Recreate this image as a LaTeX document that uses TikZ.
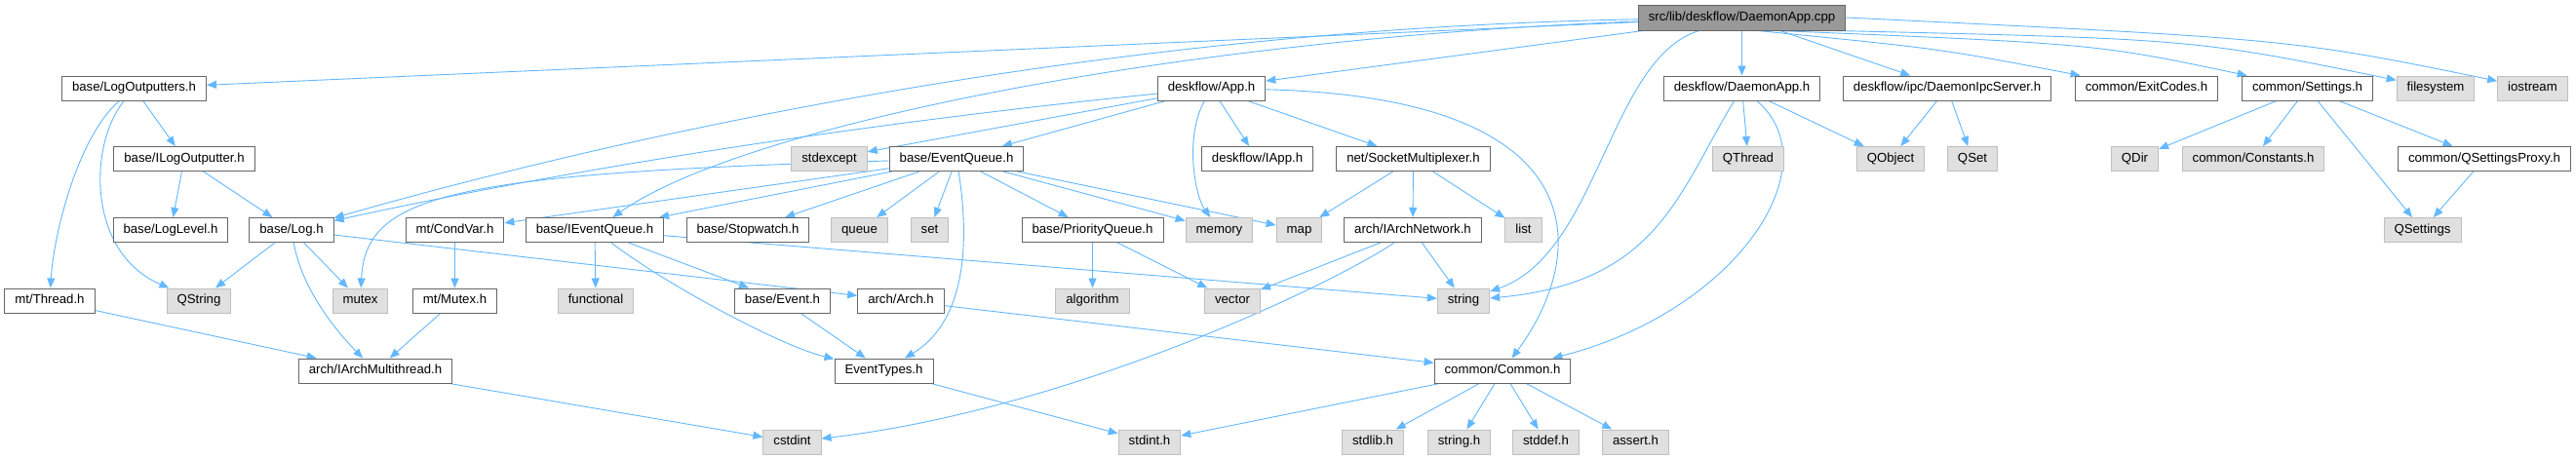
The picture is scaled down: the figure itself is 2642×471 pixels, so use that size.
\documentclass[tikz,border=0pt]{standalone}
\usepackage{fontspec}
\setmainfont{Liberation Sans}
\usetikzlibrary{shapes,arrows.meta,backgrounds}
\usepackage{xcolor}
\definecolor{inclblue}{HTML}{63B8FF}
\definecolor{hdrborder}{HTML}{666666}
\definecolor{sysborder}{HTML}{BFBFBF}
\definecolor{sysfill}{HTML}{E0E0E0}
\definecolor{srcfill}{HTML}{999999}

\begin{document}
\begin{tikzpicture}[x=1pt, y=-1pt,
header/.style={rectangle, draw=hdrborder, fill=white, line width=1pt, minimum height=25pt, inner xsep=10.5pt, inner ysep=0pt, text height=9.6pt, text depth=2.8pt, font=\fontsize{13.2}{15}\selectfont},
sysheader/.style={header, draw=sysborder, fill=sysfill},
source/.style={header, fill=srcfill, minimum height=26pt},
incl/.style={draw=inclblue, line width=0.9pt, -{Triangle[length=10pt,width=8pt]}},
]
\useasboundingbox (0,0) rectangle (2642,471);

% Source file
\node[source] (cpp) at (1786.5,18) {src/lib/deskflow/DaemonApp.cpp};

% Headers
\node[header] (logout) at (137.5,90.5) {base/LogOutputters.h};
\node[header] (app) at (1242.5,90.5) {deskflow/App.h};
\node[header] (daemonh) at (1786.5,90.5) {deskflow/DaemonApp.h};
\node[header] (ipcserver) at (1997,90.5) {deskflow/ipc/DaemonIpcServer.h};
\node[header] (exitcodes) at (2201.5,90.5) {common/ExitCodes.h};
\node[header] (settings) at (2366.5,90.5) {common/Settings.h};
\node[header] (ilogout) at (189,163) {base/ILogOutputter.h};
\node[header] (evq) at (981,163) {base/EventQueue.h};
\node[header] (iapp) at (1289.5,163) {deskflow/IApp.h};
\node[header] (sockmux) at (1449.5,163) {net/SocketMultiplexer.h};
\node[header] (qsproxy) at (2548,163) {common/QSettingsProxy.h};
\node[header] (loglevel) at (175,236) {base/LogLevel.h};
\node[header] (logh) at (299,236) {base/Log.h};
\node[header] (condvar) at (466.5,236) {mt/CondVar.h};
\node[header] (ievq) at (610,236) {base/IEventQueue.h};
\node[header] (stopwatch) at (767,236) {base/Stopwatch.h};
\node[header] (prioq) at (1120.5,236) {base/PriorityQueue.h};
\node[header] (archnet) at (1449,236) {arch/IArchNetwork.h};
\node[header] (thread) at (51,308.5) {mt/Thread.h};
\node[header] (mutexh) at (466.5,308.5) {mt/Mutex.h};
\node[header] (event) at (802.5,308.5) {base/Event.h};
\node[header] (arch) at (924,308.5) {arch/Arch.h};
\node[header] (archmt) at (385,380.5) {arch/IArchMultithread.h};
\node[header] (evtypes) at (906.5,380.5) {EventTypes.h};
\node[header] (common) at (1541,380.5) {common/Common.h};

% System headers
\node[sysheader] (filesystem) at (2498,90.5) {filesystem};
\node[sysheader] (iostream) at (2597.5,90.5) {iostream};
\node[sysheader] (stdexcept) at (850.5,163) {stdexcept};
\node[sysheader] (qthread) at (1793,163) {QThread};
\node[sysheader] (qobject) at (1939,163) {QObject};
\node[sysheader] (qset) at (2023,163) {QSet};
\node[sysheader] (qdir) at (2189.5,163) {QDir};
\node[sysheader] (constants) at (2311,163) {common/Constants.h};
\node[sysheader] (queue) at (881.5,236) {queue};
\node[sysheader] (set) at (953.5,236) {set};
\node[sysheader] (memory) at (1250.5,236) {memory};
\node[sysheader] (map) at (1332.5,236) {map};
\node[sysheader] (list) at (1562.5,236) {list};
\node[sysheader] (qsettings) at (2484.5,236) {QSettings};
\node[sysheader] (qstring) at (204,308.5) {QString};
\node[sysheader] (mutex) at (369.5,308.5) {mutex};
\node[sysheader] (functional) at (611,308.5) {functional};
\node[sysheader] (algorithm) at (1120.5,308.5) {algorithm};
\node[sysheader] (vector) at (1264,308.5) {vector};
\node[sysheader] (string) at (1501,308.5) {string};
\node[sysheader] (cstdint) at (812.5,453.5) {cstdint};
\node[sysheader] (stdint) at (1179,453.5) {stdint.h};
\node[sysheader] (stdlib) at (1408,453.5) {stdlib.h};
\node[sysheader] (stringh) at (1496.5,453.5) {string.h};
\node[sysheader] (stddef) at (1585.5,453.5) {stddef.h};
\node[sysheader] (asserth) at (1677.5,453.5) {assert.h};

\begin{pgfonlayer}{background}
\fill[white] (0,0) rectangle (2642,471);

% Includes of DaemonApp.cpp
\draw[incl] (cpp) -- (logout);
\draw[incl] (cpp) .. controls (1100,30) and (600,150) .. (logh);
\draw[incl] (cpp) .. controls (1200,40) and (760,130) .. (ievq);
\draw[incl] (cpp) -- (app);
\draw[incl] (cpp) .. controls (1650,60) and (1640,260) .. (string);
\draw[incl] (cpp) -- (daemonh);
\draw[incl] (cpp) -- (ipcserver);
\draw[incl] (cpp.-40) .. controls (1990,50) .. (exitcodes);
\draw[incl] (cpp.-20) .. controls (2150,45) .. (settings);
\draw[incl] (cpp.-8) .. controls (2250,40) .. (filesystem);
\draw[incl] (cpp.east) .. controls (2350,40) .. (iostream);

% Logging
\draw[incl] (logout) -- (ilogout);
\draw[incl] (logout) .. controls (90,150) and (90,260) .. (qstring);
\draw[incl] (logout) .. controls (80,140) and (55,240) .. (thread);
\draw[incl] (ilogout) -- (loglevel);
\draw[incl] (ilogout) -- (logh);
\draw[incl] (logh) -- (qstring);
\draw[incl] (logh) -- (mutex);
\draw[incl] (logh) .. controls (310,300) and (350,345) .. (archmt);
\draw[incl] (logh) -- (arch);

% Threads
\draw[incl] (thread) -- (archmt);
\draw[incl] (condvar) -- (mutexh);
\draw[incl] (mutexh) -- (archmt);
\draw[incl] (archmt) -- (cstdint);

% deskflow/App.h
\draw[incl] (app) -- (stdexcept);
\draw[incl] (app) .. controls (900,125) and (600,170) .. (logh);
\draw[incl] (app) -- (evq);
\draw[incl] (app) .. controls (1215,140) and (1225,200) .. (memory);
\draw[incl] (app) -- (iapp);
\draw[incl] (app) -- (sockmux);
\draw[incl] (app) .. controls (1640,100) and (1630,260) .. (common);

% Event queue
\draw[incl] (evq) .. controls (460,178) and (375,200) .. (mutex);
\draw[incl] (evq) -- (condvar);
\draw[incl] (evq) -- (ievq);
\draw[incl] (evq) -- (stopwatch);
\draw[incl] (evq) -- (queue);
\draw[incl] (evq) -- (set);
\draw[incl] (evq) .. controls (995,250) and (990,330) .. (evtypes);
\draw[incl] (evq) -- (prioq);
\draw[incl] (evq) -- (memory);
\draw[incl] (evq) -- (map);
\draw[incl] (ievq) -- (functional);
\draw[incl] (ievq) -- (event);
\draw[incl] (ievq) .. controls (680,290) and (800,355) .. (evtypes);
\draw[incl] (ievq) -- (string);
\draw[incl] (event) -- (evtypes);
\draw[incl] (evtypes) -- (stdint);
\draw[incl] (prioq) -- (algorithm);
\draw[incl] (prioq) -- (vector);
\draw[incl] (arch) -- (common);

% Network
\draw[incl] (sockmux) -- (map);
\draw[incl] (sockmux) -- (archnet);
\draw[incl] (sockmux) -- (list);
\draw[incl] (archnet) -- (vector);
\draw[incl] (archnet) -- (string);
\draw[incl] (archnet) .. controls (1370,290) and (1100,420) .. (cstdint);

% common/Common.h
\draw[incl] (common) -- (stdint);
\draw[incl] (common) -- (stdlib);
\draw[incl] (common) -- (stringh);
\draw[incl] (common) -- (stddef);
\draw[incl] (common) -- (asserth);

% Daemon
\draw[incl] (daemonh) -- (qthread);
\draw[incl] (daemonh) -- (qobject);
\draw[incl] (daemonh) .. controls (1720,200) and (1700,290) .. (string);
\draw[incl] (daemonh) .. controls (1880,170) and (1780,320) .. (common);
\draw[incl] (ipcserver) -- (qobject);
\draw[incl] (ipcserver) -- (qset);

% Settings
\draw[incl] (settings) -- (qdir);
\draw[incl] (settings) -- (constants);
\draw[incl] (settings) -- (qsettings);
\draw[incl] (settings) -- (qsproxy);
\draw[incl] (qsproxy) -- (qsettings);
\end{pgfonlayer}

\end{tikzpicture}
\end{document}
